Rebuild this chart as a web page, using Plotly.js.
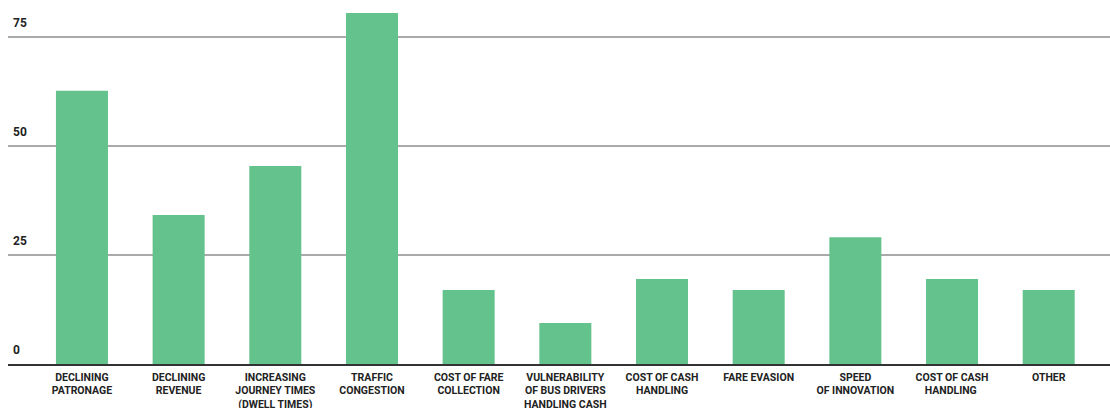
<!DOCTYPE html>
<html>
<head>
<meta charset="utf-8">
<script src="https://cdn.plot.ly/plotly-3.0.1.min.js"></script>
<style>
  html, body { margin: 0; padding: 0; background: #fff; }
  #chart { width: 1110px; height: 408px; }
</style>
</head>
<body>
<div id="chart"></div>
<script>
const categories = [
  "DECLINING<br>PATRONAGE",
  "DECLINING<br>REVENUE",
  "INCREASING<br>JOURNEY TIMES<br>(DWELL TIMES)",
  "TRAFFIC<br>CONGESTION",
  "COST OF FARE<br>COLLECTION",
  "VULNERABILITY<br>OF BUS DRIVERS<br>HANDLING CASH",
  "COST OF CASH<br>HANDLING",
  "FARE EVASION",
  "SPEED<br>OF INNOVATION",
  "COST OF CASH<br>HANDLING ",
  "OTHER"
];
const values = [62.7, 34.2, 45.4, 80.5, 17, 9.4, 19.5, 17, 29.1, 19.5, 17];
const yTicks = [0, 25, 50, 75];
const yTickLabels = ["0", "25", "50", "75"];

const font = "Roboto, 'Liberation Sans', Arial, sans-serif";

const trace = {
  type: "bar",
  x: categories.map((c, i) => i),
  y: values,
  marker: { color: "#64C28C", line: { width: 0 } },
  hoverinfo: "skip"
};

const annotations = yTicks.map((v, i) => ({
  xref: "paper", yref: "y",
  x: 0, y: v,
  xanchor: "left", yanchor: "bottom",
  xshift: 3, yshift: 5,
  text: "<b>" + yTickLabels[i] + "</b>",
  showarrow: false,
  font: { family: font, size: 12, color: "#222" }
}));

const layout = {
  width: 1110, height: 408,
  margin: { l: 8, r: 0, t: 0, b: 44, pad: 0 },
  paper_bgcolor: "#fff",
  plot_bgcolor: "#fff",
  bargap: 0.462,
  showlegend: false,
  xaxis: {
    range: [-0.765, 10.634],
    tickmode: "array",
    tickvals: categories.map((c, i) => i),
    ticktext: categories.map(c => "<b>" + c + "</b>"),
    tickangle: 0,
    ticks: "",
    ticklabelstandoff: 2,
    showgrid: false,
    zeroline: false,
    showline: true,
    linecolor: "#333",
    linewidth: 2,
    tickfont: { family: font, size: 10.5, color: "#222" },
    fixedrange: true
  },
  yaxis: {
    range: [0, 83.5],
    tickmode: "array",
    tickvals: yTicks,
    showticklabels: false,
    showgrid: true,
    gridcolor: "#aaa",
    gridwidth: 2,
    zeroline: false,
    showline: false,
    fixedrange: true
  },
  annotations: annotations
};

Plotly.newPlot("chart", [trace], layout, { displayModeBar: false, staticPlot: true });
</script>
</body>
</html>
